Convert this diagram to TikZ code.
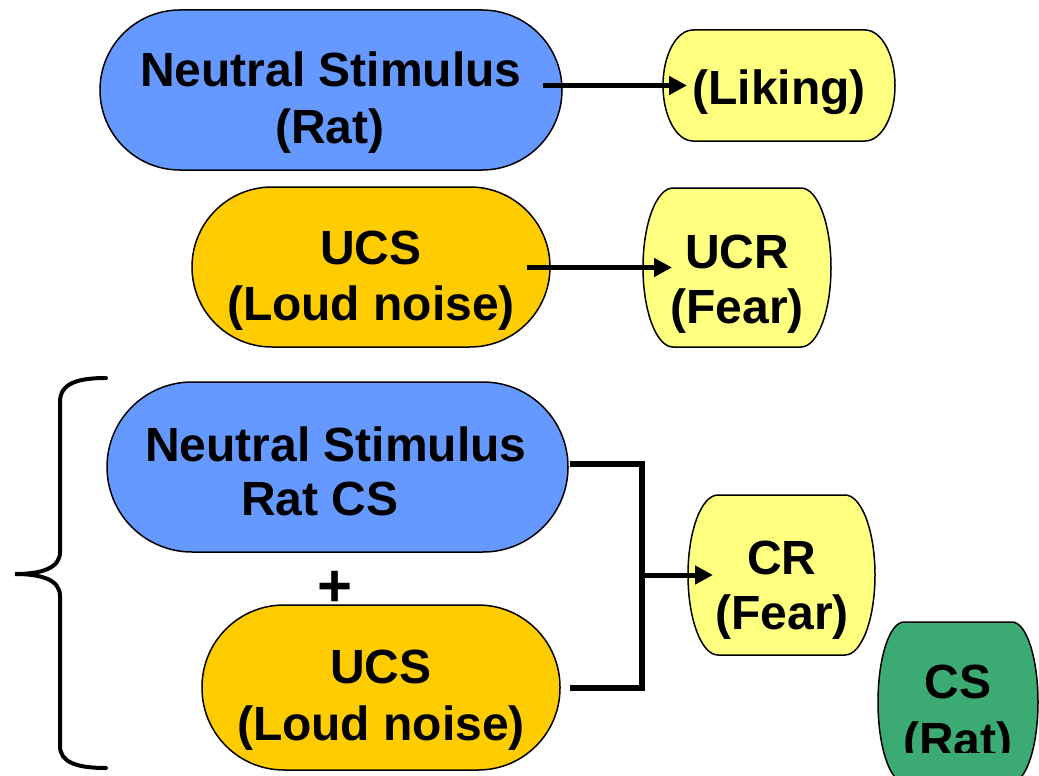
\documentclass[tikz,border=0pt]{standalone}
\usepackage{fontspec}
\setmainfont{Liberation Sans}
\usetikzlibrary{calc,arrows.meta}
\definecolor{nsblue}{HTML}{6699FF}
\definecolor{ucsorange}{HTML}{FFCC00}
\definecolor{respyellow}{HTML}{FFFF80}
\definecolor{csgreen}{HTML}{3CAA73}
\newcommand{\barrelpath}[3]{%
  \draw[fill=#3, line width=1.5pt]
    ($(#1.north west)+(#2,0)$) -- ($(#1.north east)+(-#2,0)$)
    .. controls ($(#1.north east)+(-0.448*#2,0)$) and ($(#1.east)!0.552!(#1.north east)$) .. (#1.east)
    .. controls ($(#1.east)!0.552!(#1.south east)$) and ($(#1.south east)+(-0.448*#2,0)$) .. ($(#1.south east)+(-#2,0)$)
    -- ($(#1.south west)+(#2,0)$)
    .. controls ($(#1.south west)+(0.448*#2,0)$) and ($(#1.west)!0.552!(#1.south west)$) .. (#1.west)
    .. controls ($(#1.west)!0.552!(#1.north west)$) and ($(#1.north west)+(0.448*#2,0)$) .. cycle;}
\begin{document}
\begin{tikzpicture}[x=1pt,y=-1pt,
  stadium/.style={draw=black, line width=1.5pt, inner sep=0pt, outer sep=0pt},
  boxarea/.style={inner sep=0pt, outer sep=0pt},
  txt/.style={font=\fontsize{48}{56}\selectfont\bfseries, inner sep=0pt, anchor=base},
  arr/.style={line width=5pt, -{Triangle[length=18pt,width=18pt]}},
  conn/.style={line width=5.5pt, line join=miter},
  bracestyle/.style={line width=4pt, line cap=round}
]
\useasboundingbox (0,0) rectangle (1039,776);
\clip (0,0) rectangle (1039,776);

% stadium shapes
\node[stadium, fill=nsblue, minimum width=462pt, minimum height=160pt, rounded corners=80pt] (ns1) at (331,90) {};
\node[stadium, fill=ucsorange, minimum width=358pt, minimum height=160pt, rounded corners=80pt] (ucs1) at (371,267) {};
\node[stadium, fill=nsblue, minimum width=461pt, minimum height=170pt, rounded corners=85pt] (ns2) at (337.5,467) {};
\node[stadium, fill=ucsorange, minimum width=358pt, minimum height=165pt, rounded corners=82pt] (ucs2) at (381,687.5) {};

% barrel shapes
\node[boxarea, minimum width=232pt, minimum height=111pt] (liking) at (779,85.5) {};
\node[boxarea, minimum width=188pt, minimum height=159pt] (ucr) at (737,267.5) {};
\node[boxarea, minimum width=187pt, minimum height=160pt] (cr) at (781.5,575) {};
\node[boxarea, minimum width=160pt, minimum height=160pt] (cs) at (958,702) {};
\barrelpath{liking}{30}{respyellow}
\barrelpath{ucr}{30}{respyellow}
\barrelpath{cr}{30}{respyellow}
\barrelpath{cs}{26}{csgreen}

% texts
\node[txt] (t1a) at (331,87) {Neutral Stimulus};
\node[txt] (t1b) at (330,143) {(Rat)};
\node[txt] (t2) at (779,104) {(Liking)};
\node[txt] (t3a) at (371,264) {UCS};
\node[txt] (t3b) at (371,320) {(Loud noise)};
\node[txt] (t4a) at (737,268) {UCR};
\node[txt] (t4b) at (737,323) {(Fear)};
\node[txt] (t5a) at (336,461) {Neutral Stimulus};
\node[txt] (t5b) at (320,515) {Rat CS};
\node[font=\fontsize{60}{60}\selectfont\bfseries, inner sep=0pt] (plus) at (335,589) {+};
\node[txt] (t6a) at (381,683) {UCS};
\node[txt] (t6b) at (381,740) {(Loud noise)};
\node[txt] (t7a) at (782,574) {CR};
\node[txt] (t7b) at (782,629) {(Fear)};
\node[txt] (t8a) at (958,698) {CS};
\begin{scope}
  \clip (870,700) rectangle (1039,752);
  \node[txt] (t8b) at (958,756) {(Rat)};
\end{scope}

% connectors
\draw[arr] ($(ns1.east |- liking.center)+(-19,0)$) -- ($(liking.west)+(24,0)$);
\draw[arr] ($(ucs1.east |- ucr.center)+(-23,0)$) -- ($(ucr.west)+(29,0)$);
\coordinate (jt) at (642,464);
\coordinate (jb) at (642,688);
\draw[conn] ($(ns2.east)+(2,-3)$) -- (jt) -- (jb) -- ($(ucs2.east)+(10,0.5)$);
\draw[arr] (jt |- cr.west) -- ($(cr.west)+(25,0)$);

% brace
\draw[bracestyle] (106,378) .. controls (76,378) and (60,384) .. (60,402)
  -- (60,552) .. controls (60,568) and (42,574) .. (15,574)
  .. controls (42,574) and (60,580) .. (60,596)
  -- (60,746) .. controls (60,762) and (76,768) .. (106,768);
\end{tikzpicture}
\end{document}
